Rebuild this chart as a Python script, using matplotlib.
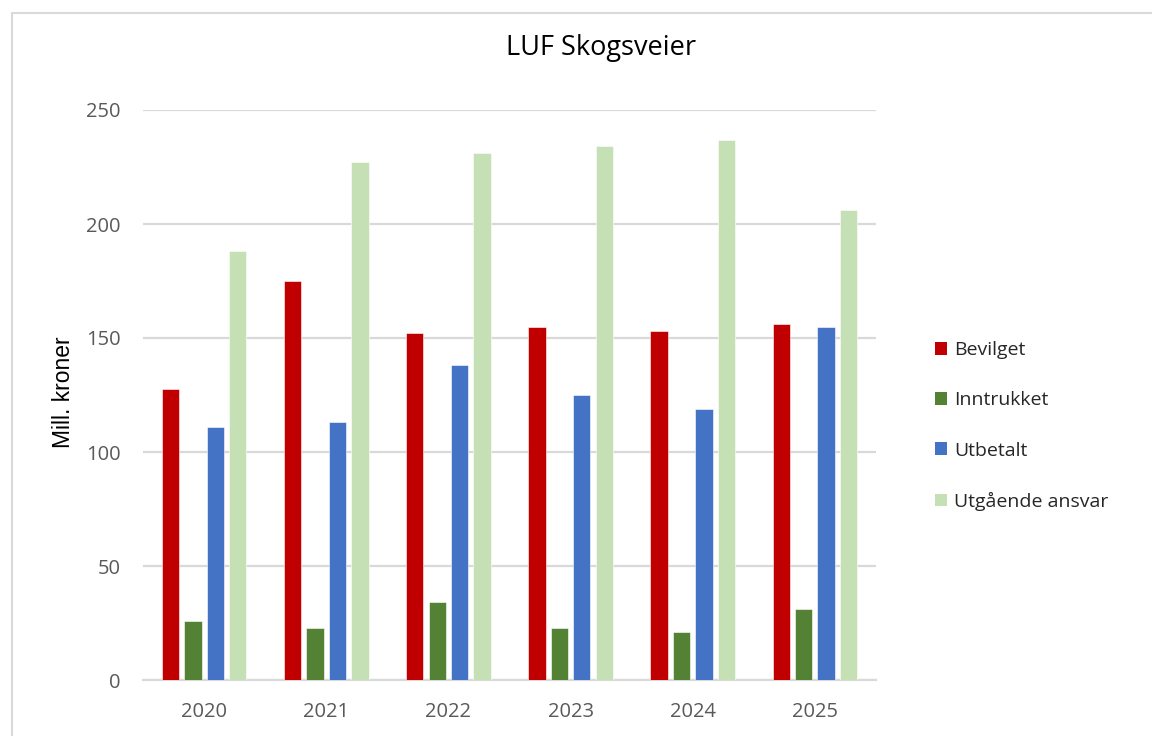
import matplotlib
matplotlib.use("Agg")
import matplotlib.pyplot as plt
import numpy as np
from matplotlib.patches import Patch, Rectangle

plt.rcParams['font.family'] = ['Open Sans', 'DejaVu Sans']

years = ["2020", "2021", "2022", "2023", "2024", "2025"]
series_names = ["Bevilget", "Inntrukket", "Utbetalt", "Utgående ansvar"]
bevilget = [127.5, 175, 152, 155, 153, 156]
inntrukket = [26, 23, 34, 23, 21, 31]
utbetalt = [111, 113, 138, 125, 119, 155]
utgaende = [188, 227, 231, 234, 237, 206]
colors = ["#C00000", "#548235", "#4472C4", "#C5E0B4"]
yticks = [0, 50, 100, 150, 200, 250]

W, H = 1152, 736
fig = plt.figure(figsize=(W / 100, H / 100), dpi=100)
fig.patch.set_facecolor("white")

# outer chart border (light grey)
fig.add_artist(Rectangle((12 / W, -0.1), 1.2, 1 - 13 / H + 0.1, transform=fig.transFigure,
                         fill=False, edgecolor="#d9d9d9", linewidth=1.5))

ax = fig.add_axes([143 / W, 1 - 680 / H, (876 - 143) / W, (680 - 110) / H])

x = np.arange(len(years))
pitch = 0.184
width = 0.142
data = [bevilget, inntrukket, utbetalt, utgaende]
for i, (vals, c, name) in enumerate(zip(data, colors, series_names)):
    ax.bar(x + (i - 1.5) * pitch, vals, width=width, color=c, label=name,
           edgecolor="white", linewidth=0.4, zorder=3)

ax.set_xlim(-0.5, len(years) - 0.5)
ax.set_ylim(0, 250)
ax.set_yticks(yticks)
ax.set_xticks(x)
ax.set_xticklabels(years)
ax.yaxis.grid(True, color="#d9d9d9", linewidth=1.6, zorder=0)
ax.set_axisbelow(True)
for s in ["top", "right", "left"]:
    ax.spines[s].set_visible(False)
ax.spines["bottom"].set_color("#d9d9d9")
ax.spines["bottom"].set_linewidth(1.6)
ax.tick_params(axis="both", length=0, labelsize=14.5, colors="#595959")
ax.tick_params(axis="x", pad=16)
ax.tick_params(axis="y", pad=16)

fig.text(63 / W, 1 - 392 / H, "Mill. kroner", rotation=90, ha="center", va="center",
         fontsize=16.5, color="black", family=["Liberation Sans", "DejaVu Sans"])

fig.text(601 / W, 1 - 48 / H, "LUF Skogsveier", ha="center", va="center",
         fontsize=19.5, color="black")

handles = [Patch(facecolor=c, edgecolor="none") for c in colors]
fig.legend(handles, series_names, loc="center left",
           bbox_to_anchor=(917 / W, 1 - 426 / H), frameon=False,
           fontsize=14, handlelength=0.62, handleheight=0.62,
           handletextpad=0.4, labelspacing=1.66, labelcolor="#262626")

fig.savefig("out.png", dpi=100, facecolor="white")
